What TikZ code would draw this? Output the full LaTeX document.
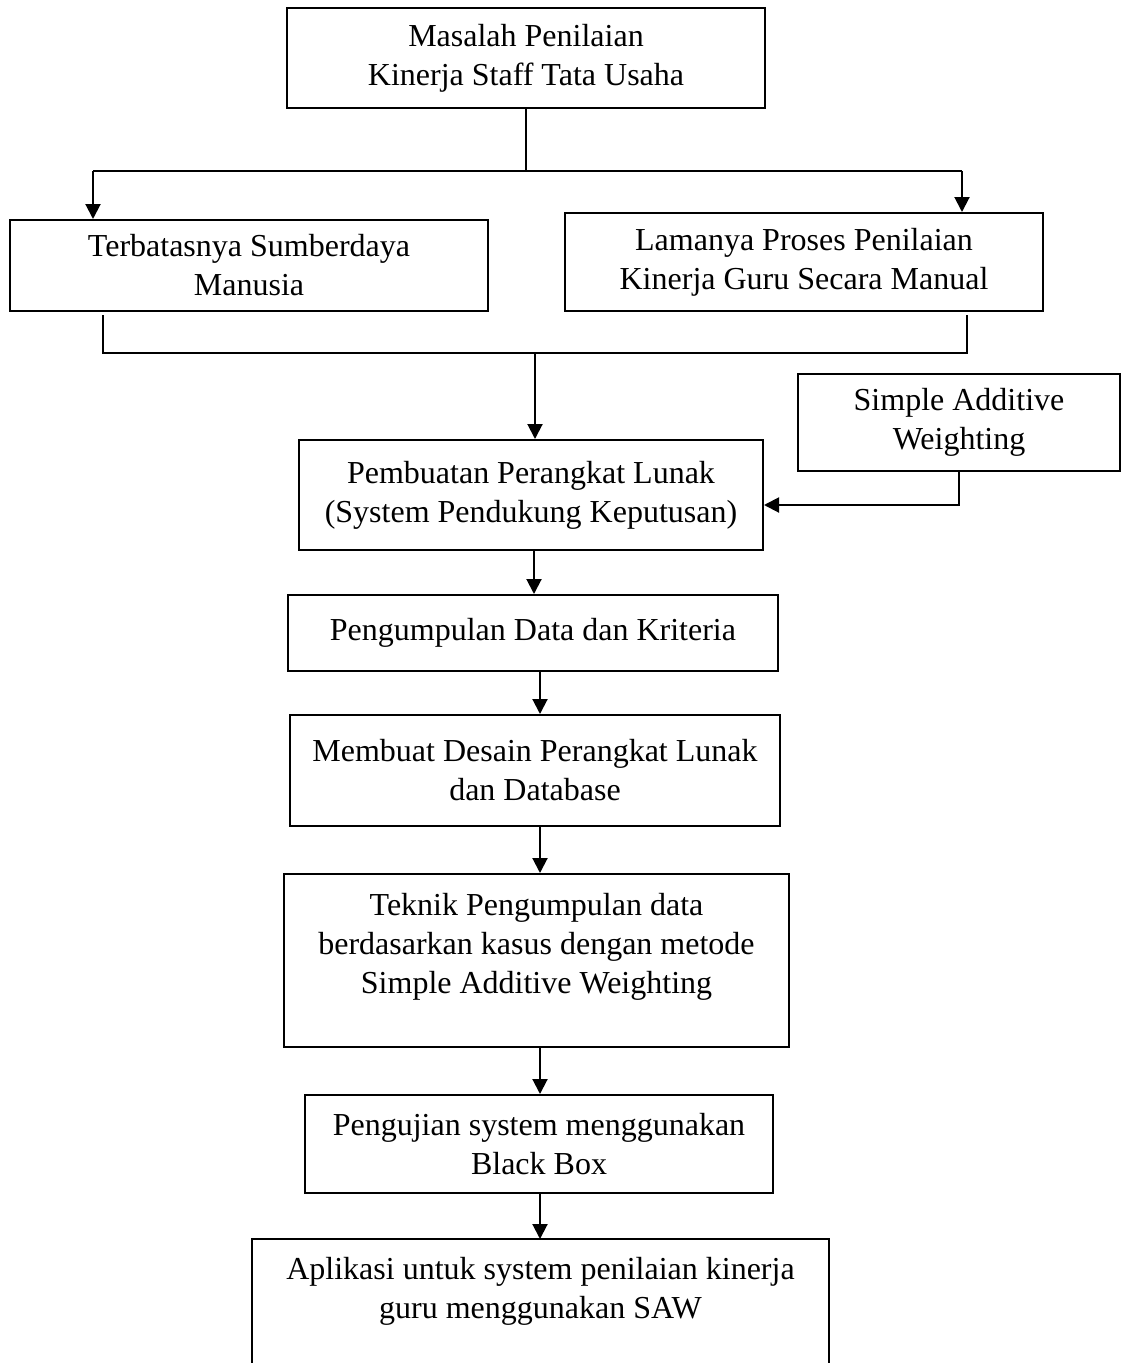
\documentclass[tikz,border=0pt]{standalone}
\usepackage{fontspec}
\setmainfont{Liberation Serif}
\usetikzlibrary{arrows.meta}
\begin{document}
\begin{tikzpicture}[x=1pt,y=-1pt,
  box/.style={draw,line width=2pt,align=center,inner sep=0pt,font=\fontsize{32}{39}\selectfont},
  txt/.style={align=center,inner sep=0pt,font=\fontsize{32}{39}\selectfont},
  conn/.style={line width=2pt},
  arr/.style={line width=2pt,-{Triangle[length=15pt,width=15pt]}}]
\useasboundingbox (0,0) rectangle (1126,1363);

\node[box,minimum width=478pt,minimum height=100pt] (top) at (526,58) {Masalah Penilaian\\Kinerja Staff Tata Usaha};
\node[box,minimum width=478pt,minimum height=91pt] (left) at (249,265.5) {Terbatasnya Sumberdaya\\Manusia};
\node[box,minimum width=478pt,minimum height=98pt] (right) at (804,262) {Lamanya Proses Penilaian\\Kinerja Guru Secara Manual};
\node[box,minimum width=322pt,minimum height=97pt] (saw) at (959,422.5) {Simple Additive\\Weighting};
\node[box,minimum width=464pt,minimum height=110pt] (pemb) at (531,495) {Pembuatan Perangkat Lunak\\(System Pendukung Keputusan)};
\node[box,minimum width=490pt,minimum height=76pt] (peng) at (533,633) {Pengumpulan Data dan Kriteria};
\node[box,minimum width=490pt,minimum height=111pt] (desain) at (535,770.5) {Membuat Desain Perangkat Lunak\\dan Database};
\node[box,minimum width=505pt,minimum height=173pt] (teknik) at (536.5,960.5) {};
\node[txt] (teknikt) at (536.5,947) {Teknik Pengumpulan data\\berdasarkan kasus dengan metode\\Simple Additive Weighting};
\node[box,minimum width=468pt,minimum height=98pt] (uji) at (539,1144) {Pengujian system menggunakan\\Black Box};
\node[txt,minimum width=577pt,minimum height=124pt,anchor=north] (app) at (540.5,1239) {};
\node[txt] (appt) at (540.5,1291) {Aplikasi untuk system penilaian kinerja\\guru menggunakan SAW};
\draw[conn] (app.south west) -- (app.north west) -- (app.north east) -- (app.south east);

% split from top
\coordinate (j1) at (527,171);
\coordinate (jl) at (93,171);
\coordinate (jr) at (962,171);
\draw[conn] (top.south) -- (top.south |- j1);
\draw[conn] (jl) -- (jr);
\draw[arr] (jl) -- (jl |- left.north);
\draw[arr] (jr) -- (jr |- right.north);

% merge
\coordinate (kl0) at (103,315);
\coordinate (kr0) at (967,315);
\coordinate (kl) at (103,353);
\coordinate (kr) at (967,353);
\coordinate (km) at (535,353);
\draw[conn] (kl0) -- (kl) -- (kr) -- (kr0);
\draw[arr] (km) -- (km |- pemb.north);

% SAW to pembuatan
\coordinate (s1) at (959,505);
\draw[arr] (saw.south) -- (s1) -- (s1 -| pemb.east);

% vertical chain
\coordinate (ax1) at (534,0);
\coordinate (ax) at (540,0);
\draw[arr] (pemb.south -| ax1) -- (peng.north -| ax1);
\draw[arr] (peng.south -| ax) -- (desain.north -| ax);
\draw[arr] (desain.south -| ax) -- (teknik.north -| ax);
\draw[arr] (teknik.south -| ax) -- (uji.north -| ax);
\draw[arr] (uji.south -| ax) -- (app.north -| ax);
\end{tikzpicture}
\end{document}
